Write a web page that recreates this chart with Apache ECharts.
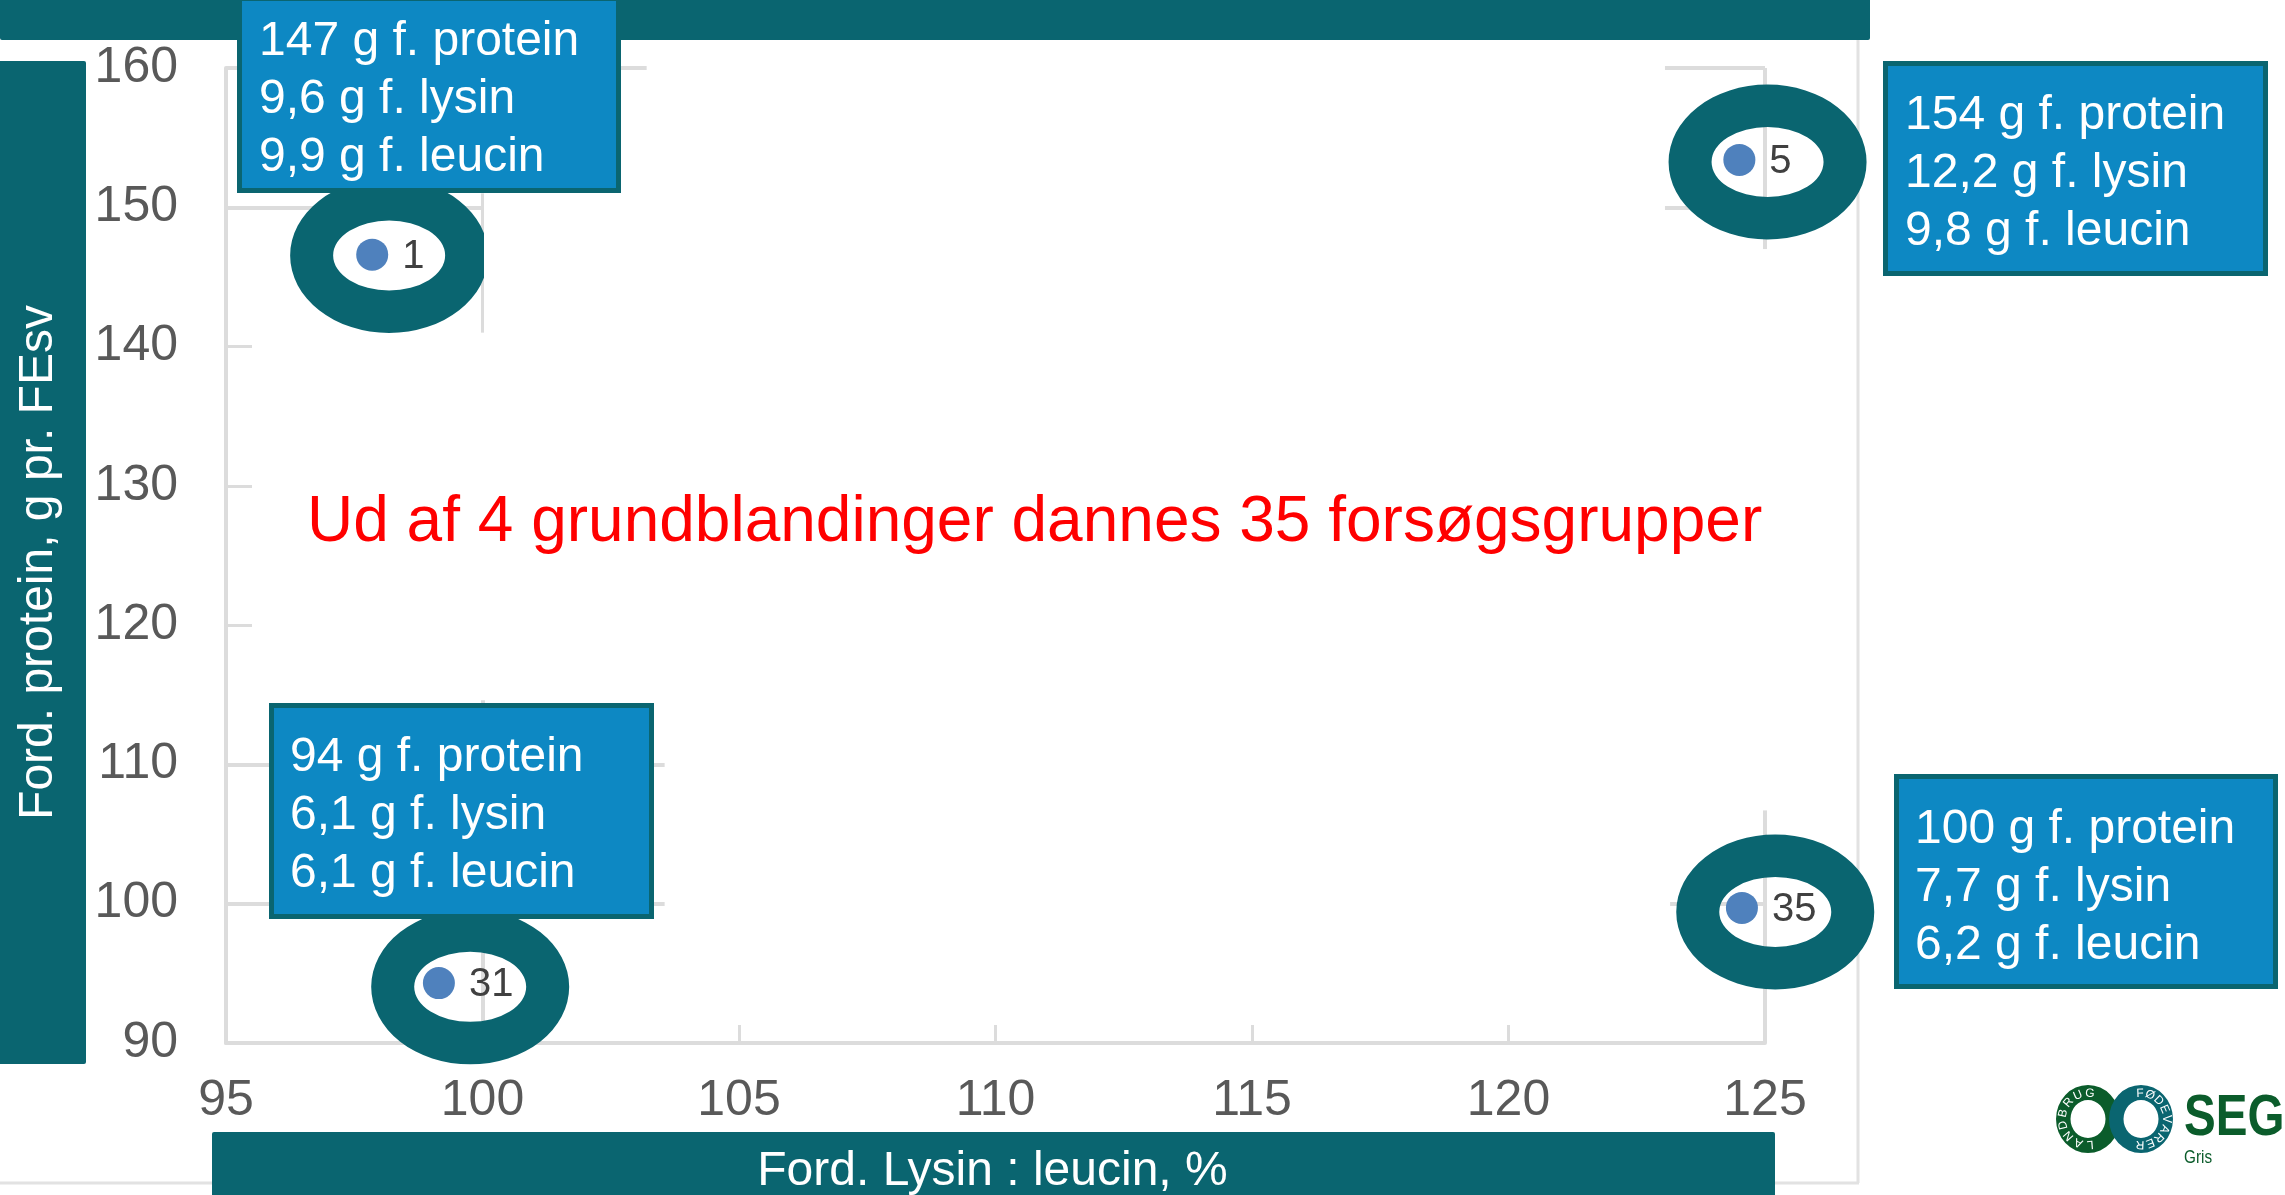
<!DOCTYPE html>
<html>
<head>
<meta charset="utf-8">
<title>Forsøgsgrupper</title>
<script src="https://cdn.jsdelivr.net/npm/echarts@6/dist/echarts.min.js"></script>
<style>
html, body { margin: 0; padding: 0; background: #fff; }
#chart { width: 2285px; height: 1195px; }
</style>
</head>
<body>
<div id="chart"></div>
<script>
// data
var groupNames = ['1', '5', '31', '35'];
var lysinLeucin = [97.85, 124.5, 99.15, 124.55];
var protein = [146.6, 153.4, 94.3, 99.7];
var ringX = [98.18, 125.05, 99.76, 125.2];
var ringY = [146.54, 153.25, 94.03, 99.41];
var xTicks = { min: 95, max: 125, step: 5 };
var yTicks = { min: 90, max: 160, step: 10 };
var xTitle = 'Ford. Lysin : leucin, %';
var yTitle = 'Ford. protein, g pr. FEsv';
var message = 'Ud af 4 grundblandinger dannes 35 forsøgsgrupper';
var boxTexts = [
	'147 g f. protein\n9,6 g f. lysin\n9,9 g f. leucin',
	'154 g f. protein\n12,2 g f. lysin\n9,8 g f. leucin',
	'94 g f. protein\n6,1 g f. lysin\n6,1 g f. leucin',
	'100 g f. protein\n7,7 g f. lysin\n6,2 g f. leucin'
];
// what is left of the gridlines around the pasted boxes
var gridBits = [
	[[95, 160], [103.2, 160]], [[123.05, 160], [125, 160]],
	[[95, 150], [100, 150]], [[123.05, 150], [125, 150]],
	[[95, 110], [103.55, 110]], [[95, 100], [103.55, 100]], [[123.15, 100], [125, 100]],
	[[100, 151], [100, 141]], [[100, 114.6], [100, 90]],
	[[125, 160], [125, 147]], [[125, 106.7], [125, 90]]
];

var teal = '#0a6570';
var blue = '#0d88c3';
var logoGreen = '#0b5c2b';
var gridGrey = '#dcdcdc';
var fontName = '"Liberation Sans", Arial, sans-serif';

// annotation layer, pixel positions of the slide overlays
var boxes = [
	{ x: 237, y: -4, w: 384, h: 197, tx: 259, ty: 13 },
	{ x: 1883, y: 61, w: 385, h: 215, tx: 1905, ty: 87 },
	{ x: 269, y: 703, w: 385, h: 216, tx: 290, ty: 729 },
	{ x: 1894, y: 774, w: 384, h: 215, tx: 1915, ty: 801 }
];

function ellipsePath(cx, cy, rx, ry, sweep) {
	return 'M' + (cx - rx) + ' ' + cy +
		'A' + rx + ' ' + ry + ' 0 1 ' + sweep + ' ' + (cx + rx) + ' ' + cy +
		'A' + rx + ' ' + ry + ' 0 1 ' + sweep + ' ' + (cx - rx) + ' ' + cy + 'Z';
}

function ringPath(cx, cy, rx, ry, hx, hy) {
	return ellipsePath(cx, cy, rx, ry, 1) + ellipsePath(cx, cy, hx, hy, 0);
}

function barEl(x, y, w, h) {
	return { type: 'rect', z: -1, silent: true, shape: { x: x, y: y, width: w, height: h, r: 2 }, style: { fill: teal } };
}

function lineEl(x1, y1, x2, y2) {
	return { type: 'line', z: -2, silent: true, shape: { x1: x1, y1: y1, x2: x2, y2: y2 }, style: { stroke: '#e2e2e2', lineWidth: 3 } };
}

// letters around the logo rings, angle in degrees clockwise from the top
function logoLetters(word, cx, cy, start, step) {
	var list = [];
	for (var n = 0; n < word.length; n++) {
		var a = (start + n * step) * Math.PI / 180;
		list.push({
			type: 'text',
			z: 13,
			silent: true,
			x: cx + 25.5 * Math.sin(a),
			y: cy - 25.5 * Math.cos(a),
			rotation: -a,
			style: { text: word.charAt(n), fill: '#fff', font: '12px ' + fontName, align: 'center', verticalAlign: 'middle' }
		});
	}
	return list;
}

var overlay = [
	lineEl(1858, 40, 1858, 1183),
	lineEl(0, 1183, 212, 1183),
	lineEl(1775, 1183, 1859, 1183),
	barEl(0, -4, 1870, 44),
	barEl(-4, 61, 90, 1003),
	barEl(212, 1132, 1563, 70)
];

// the ring at group 1 is cut off straight on its right side
overlay.push({ type: 'rect', z: 11, silent: true, shape: { x: 484, y: 170, width: 12, height: 170 }, style: { fill: '#fff' } });

for (var j = 0; j < boxes.length; j++) {
	overlay.push({
		type: 'rect',
		z: 20,
		silent: true,
		shape: { x: boxes[j].x + 2.5, y: boxes[j].y + 2.5, width: boxes[j].w - 5, height: boxes[j].h - 5 },
		style: { fill: blue, stroke: teal, lineWidth: 5 }
	});
	overlay.push({
		type: 'text',
		z: 21,
		silent: true,
		x: boxes[j].tx,
		y: boxes[j].ty,
		style: { text: boxTexts[j], fill: '#fff', font: '48px ' + fontName, lineHeight: 58 }
	});
}

overlay.push({
	type: 'text',
	z: 21,
	silent: true,
	x: 307,
	y: 491,
	style: { text: message, fill: '#ff0000', font: '64px ' + fontName }
});

// logo
overlay = overlay.concat(logoLetters('LANDBRUG', 2088, 1119, 175, 27));
overlay = overlay.concat(logoLetters('FØDEVARER', 2141, 1119, -2, 23));
overlay.push({
	type: 'text',
	z: 13,
	silent: true,
	x: 2184,
	y: 1090,
	scaleX: 0.82,
	style: { text: 'SEG', fill: logoGreen, font: 'bold 58px ' + fontName }
});
overlay.push({
	type: 'text',
	z: 13,
	silent: true,
	x: 2184,
	y: 1149,
	scaleX: 0.85,
	style: { text: 'Gris', fill: logoGreen, font: '18px ' + fontName }
});

var points = [];
var ringData = [];
for (var k = 0; k < groupNames.length; k++) {
	points.push({ name: groupNames[k], value: [lysinLeucin[k], protein[k]] });
	ringData.push([ringX[k], ringY[k]]);
}

var bitLines = [];
for (var b = 0; b < gridBits.length; b++) {
	bitLines.push([{ coord: gridBits[b][0] }, { coord: gridBits[b][1] }]);
}

var myChart = echarts.init(document.getElementById('chart'), null, { renderer: 'canvas' });
var option = {
	backgroundColor: '#fff',
	animation: false,
	grid: { left: 226, top: 68, width: 1539, height: 975, outerBoundsMode: 'none' },
	xAxis: {
		type: 'value',
		min: xTicks.min,
		max: xTicks.max,
		interval: xTicks.step,
		name: xTitle,
		nameLocation: 'middle',
		nameGap: 105,
		nameTextStyle: { color: '#fff', fontSize: 48, fontFamily: fontName, padding: [0, 6, 0, 0] },
		axisLine: { lineStyle: { color: gridGrey, width: 4 } },
		axisTick: { inside: true, length: 18, lineStyle: { color: gridGrey, width: 3 } },
		axisLabel: { color: '#595959', fontSize: 50, fontFamily: fontName, margin: 33 },
		splitLine: { show: false }
	},
	yAxis: {
		type: 'value',
		min: yTicks.min,
		max: yTicks.max,
		interval: yTicks.step,
		name: yTitle,
		nameLocation: 'middle',
		nameGap: 163,
		nameRotate: 90,
		nameTextStyle: { color: '#fff', fontSize: 48, fontFamily: fontName, padding: [0, 14, 0, 0] },
		axisLine: { lineStyle: { color: gridGrey, width: 4 } },
		axisTick: { inside: true, length: 26, lineStyle: { color: gridGrey, width: 3 } },
		axisLabel: { color: '#595959', fontSize: 50, fontFamily: fontName, margin: 48 },
		splitLine: { show: false }
	},
	series: [
		{
			// teal rings around the four corner groups
			type: 'custom',
			z: 10,
			silent: true,
			renderItem: function (params, api) {
				var c = api.coord([api.value(0), api.value(1)]);
				return {
					type: 'path',
					shape: { pathData: ringPath(c[0], c[1], 99, 77.5, 56, 35) },
					style: { fill: teal }
				};
			},
			data: ringData
		},
		{
			// logo rings
			type: 'custom',
			coordinateSystem: 'none',
			z: 12,
			silent: true,
			renderItem: function (params, api) {
				return {
					type: 'path',
					shape: { pathData: ringPath(api.value(0), api.value(1), 32, 34, 17.5, 19) },
					style: { fill: params.dataIndex ? teal : logoGreen, blend: params.dataIndex ? 'multiply' : null }
				};
			},
			data: [[2088, 1119], [2141, 1119]]
		},
		{
			type: 'scatter',
			z: 30,
			symbol: 'circle',
			symbolSize: 32,
			itemStyle: { color: '#4f81bd', opacity: 1 },
			label: {
				show: true,
				position: 'right',
				distance: 12,
				offset: [2, 2],
				formatter: '{b}',
				color: '#404040',
				fontSize: 40,
				fontFamily: fontName
			},
			markLine: {
				silent: true,
				symbol: 'none',
				label: { show: false },
				lineStyle: { color: gridGrey, width: 4, type: 'solid' },
				data: bitLines
			},
			data: points
		}
	],
	graphic: overlay
};
myChart.setOption(option);
</script>
</body>
</html>
